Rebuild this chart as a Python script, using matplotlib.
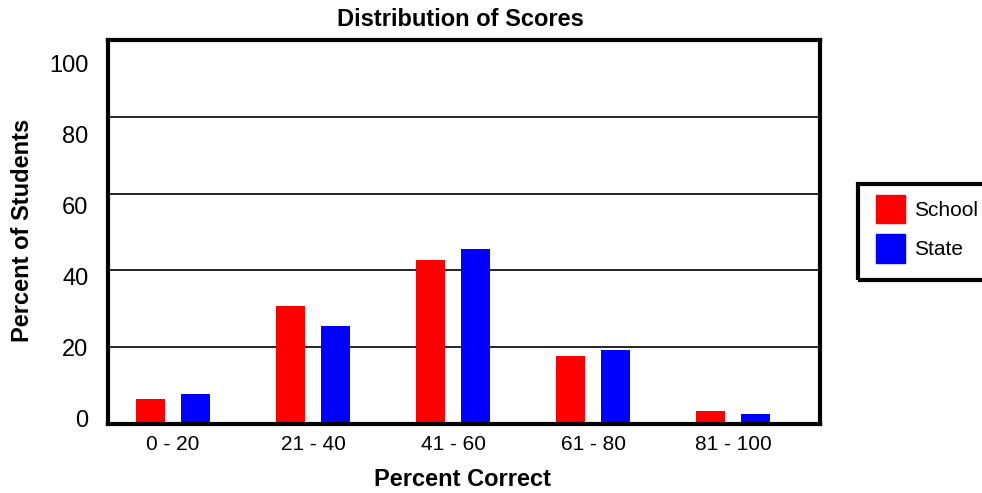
import matplotlib
matplotlib.use("Agg")
import matplotlib.pyplot as plt
from matplotlib.patches import Rectangle, Patch
import numpy as np

plt.rcParams['font.family'] = ['Liberation Sans', 'DejaVu Sans']

# data
categories = ['0 - 20', '21 - 40', '41 - 60', '61 - 80', '81 - 100']
school = [6.4, 30.6, 42.6, 17.6, 3.5]
state = [7.7, 25.4, 45.5, 19.4, 2.7]
ytick_labels = ['0', '20', '40', '60', '80', '100']
gridlines = [20, 40, 60, 80]

W, H = 982, 493
fig = plt.figure(figsize=(W / 100, H / 100), dpi=100)
ax = fig.add_axes([108 / W, 1 - 424 / H, (820 - 108) / W, (424 - 40) / H])

x = np.arange(len(categories))
bw = 0.207
off = 0.161
ax.bar(x - off, school, bw, color='#ff0000', label='School', zorder=3)
ax.bar(x + off, state, bw, color='#0000ff', label='State', zorder=3)

for g in gridlines:
    ax.axhline(g, color='black', lw=1.2, zorder=1)

ax.set_xlim(-0.464, 4.621)
ax.set_ylim(0, 100)
ax.set_xticks(x)
ax.set_xticklabels(categories, fontsize=15)
# labels in the source sit at evenly spread spots, not exactly on the grid
ax.set_yticks(np.linspace(1.4, 94, len(ytick_labels)))
ax.set_yticklabels(ytick_labels, fontsize=17)
ax.tick_params(axis='both', length=0)
ax.tick_params(axis='y', pad=14)
ax.tick_params(axis='x', pad=8)
for s in ax.spines.values():
    s.set_linewidth(3)
    s.set_zorder(4)

fig.text(460 / W, 1 - 19 / H, 'Distribution of Scores', ha='center', va='center',
         fontsize=17, fontweight='bold')
fig.text(462 / W, 1 - 479 / H, 'Percent Correct', ha='center', va='center',
         fontsize=17, fontweight='bold')
fig.text(23 / W, 1 - 230 / H, 'Percent of Students', ha='center', va='center',
         rotation=90, fontsize=17, fontweight='bold')

# legend box runs off the right edge like the original
fig.patches.append(Rectangle((858 / W, 1 - 280 / H), 140 / W, 96 / H,
                             transform=fig.transFigure, fill=False,
                             lw=3, ec='black'))
handles = [Patch(color='#ff0000', label='School'), Patch(color='#0000ff', label='State')]
fig.legend(handles=handles, loc='upper left', bbox_to_anchor=(859 / W, 1 - 178 / H),
           frameon=False, fontsize=15, handlelength=1.39, handleheight=1.75,
           handletextpad=0.45, labelspacing=0.5, borderpad=0.3)

fig.savefig('out.png', dpi=100)
